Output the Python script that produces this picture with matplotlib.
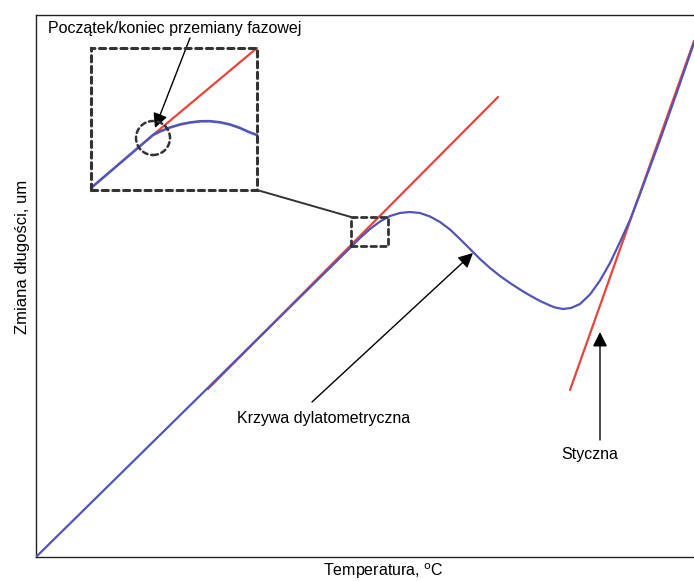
import matplotlib
matplotlib.use("Agg")
import matplotlib.pyplot as plt
from matplotlib.patches import Rectangle, Circle

plt.rcParams['font.family'] = ['Liberation Sans', 'DejaVu Sans']

# ---- dilatometric curve (arbitrary units: temperature / length change) ----
temp = [0, 314, 324, 334, 344, 354, 364, 374, 384, 394, 404, 414, 424, 434,
        444, 454, 464, 474, 484, 494, 504, 514, 519, 527, 535, 544, 554, 564,
        574, 584, 594, 604, 614, 624, 641, 658]
length = [0, 309, 319, 328, 335.5, 341, 344, 345, 344, 340.5, 335, 327.5, 318,
          308, 298, 289, 281, 274, 267.5, 261.5, 256, 251.5, 249.5, 248, 249,
          253, 262.5, 276.5, 294, 315, 337, 363, 390, 417, 465, 514]

# tangent lines (start, end)
tan1_x = [172, 462]
tan1_y = [168, 460]
tan2_x = [534, 658]
tan2_y = [167, 516]

# magnified inset (drawn in same axes)
inset_x = [55, 117, 124, 134, 144, 154, 164, 174, 184, 194, 204, 214, 221]
inset_y = [369, 422, 425.5, 429.5, 432.5, 434.5, 435.7, 435.8, 434.7, 432.5,
           429, 424.5, 422]
inset_tan_x = [117, 221]
inset_tan_y = [422, 509]

BLUE = "#5454b6"
RED = "#e8443c"
DASH = "#333333"

fig = plt.figure(figsize=(6.94, 5.81), dpi=100)
ax = fig.add_axes([36 / 694, 24 / 581, 658 / 694, 542 / 581])
ax.set_xlim(0, 658)
ax.set_ylim(0, 542)
ax.set_xticks([]); ax.set_yticks([])
ax.spines["right"].set_visible(False)
for s in ("left", "bottom", "top"):
    ax.spines[s].set_linewidth(1.0)
    ax.spines[s].set_color("#222222")

line_kw = dict(solid_joinstyle="round", solid_capstyle="round")
ax.plot(tan1_x, tan1_y, color=RED, lw=1.6, zorder=2, **line_kw)
ax.plot(tan2_x, tan2_y, color=RED, lw=1.6, zorder=2, **line_kw)
ax.plot(temp, length, color=BLUE, lw=1.6, zorder=3, **line_kw)

ax.plot(inset_tan_x, inset_tan_y, color=RED, lw=1.6, zorder=2, **line_kw)
ax.plot(inset_x, inset_y, color=BLUE, lw=1.9, zorder=3, **line_kw)

# dashed boxes + connector
ax.add_patch(Rectangle((55, 367), 166, 142, fill=False, ec=DASH, lw=2.2,
                       ls=(0, (2.0, 1.5)), capstyle="round", zorder=4))
ax.add_patch(Rectangle((315, 311), 37, 29, fill=False, ec=DASH, lw=2.0,
                       ls=(0, (2.0, 1.5)), capstyle="round", zorder=4))
ax.add_patch(Circle((117, 419), 17, fill=False, ec=DASH, lw=1.8,
                    ls=(0, (2.0, 1.5)), capstyle="round", zorder=4))
ax.plot([221, 315], [367, 340], color=DASH, lw=1.4, zorder=4)

arrow = dict(arrowstyle="-|>", mutation_scale=22, lw=1.0, color="black",
             shrinkA=0, shrinkB=0)
ax.annotate("", xy=(119, 429), xytext=(154, 519), arrowprops=arrow)
ax.annotate("", xy=(437, 304), xytext=(276, 155), arrowprops=arrow)
ax.annotate("", xy=(564, 225), xytext=(564, 117), arrowprops=arrow)

ax.text(12, 529, "Początek/koniec przemiany fazowej", fontsize=11.5,
        ha="left", va="center")
ax.text(288, 138, "Krzywa dylatometryczna", fontsize=11.5, ha="center", va="center")
ax.text(554, 102, "Styczna", fontsize=11.5, ha="center", va="center")

fig.text(383 / 694, 1 - 571 / 581, "Temperatura, $^{\\mathrm{o}}$C", fontsize=11.5,
         ha="center", va="center")
fig.text(23 / 694, 1 - 257 / 581, "Zmiana długości, um", fontsize=12,
         ha="center", va="center", rotation=90)

fig.savefig("out.png", dpi=100)
